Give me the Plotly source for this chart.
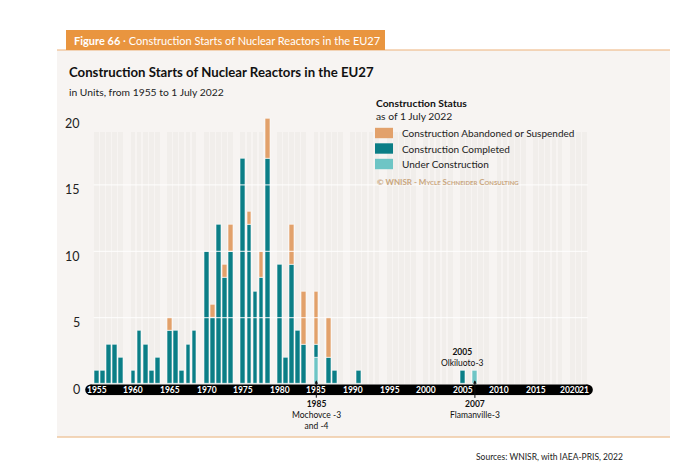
import plotly.graph_objects as go

# ---------------- data ----------------
years = list(range(1955, 2023))
completed = [1, 1, 3, 3, 2,
             1, 4, 3, 1, 2,
             4, 4, 1, 3, 4,
             10, 5, 12, 8, 10,
             17, 12, 7, 8, 17,
             9, 2, 9, 4, 3,
             1, 0, 2, 1, 0,
             0, 1, 0, 0, 0,
             0, 0, 0, 0, 0,
             0, 0, 0, 0, 0,
             1, 0, 0, 0, 0,
             0, 0, 0, 0, 0,
             0, 0, 0, 0, 0,
             0, 0, 0]
abandoned = [0, 0, 0, 0, 0,
             0, 0, 0, 0, 0,
             1, 0, 0, 0, 0,
             0, 1, 0, 1, 2,
             0, 1, 0, 2, 3,
             0, 0, 3, 0, 4,
             4, 0, 3, 0, 0,
             0, 0, 0, 0, 0,
             0, 0, 0, 0, 0,
             0, 0, 0, 0, 0,
             0, 0, 0, 0, 0,
             0, 0, 0, 0, 0,
             0, 0, 0, 0, 0,
             0, 0, 0]
under_construction = [0] * 30 + [2] + [0] * 21 + [1] + [0] * 15

series_names = ["Construction Abandoned or Suspended", "Construction Completed", "Under Construction"]
y_ticks = [0, 5, 10, 15, 20]
grid_levels = [5, 10, 15]
x_tick_years = [1955, 1960, 1965, 1970, 1975, 1980, 1985, 1990, 1995, 2000, 2005, 2010, 2015, 2020, 2021]
x_tick_text = ["1955", "1960", "1965", "1970", "1975", "1980", "1985", "1990", "1995", "2000",
               "2005", "2010", "2015", "2020", "21"]
notes = [  # (year, text, placement)
    (2005, "<b>2005</b><br>Olkiluoto-3", "above"),
    (2007, "<b>2007</b><br>Flamanville-3", "below"),
    (1985, "<b>1985</b><br>Mochovce -3<br>and -4", "below"),
]

# ---------------- style ----------------
C_ABAND = "#E2A16B"
C_COMPL = "#0B7E86"
C_UC = "#6EC5C5"
C_STRIPE = "#F1EEEB"
C_PANEL = "#F7F4F2"
C_TAB = "#E9953F"
FONT = "Lato"
W, H = 690, 470


def px(x):
    return x / W


def py(y):
    return 1 - y / H


def slot(year):
    i = year - years[0]
    return i + i // 5  # one blank slot after every five years


xs = [slot(y) for y in years]


def nz(v):
    return [a if a else None for a in v]


base_compl = under_construction
base_aband = [u + c for u, c in zip(under_construction, completed)]

fig = go.Figure()
# background stripes (one per year)
fig.add_trace(go.Bar(x=xs, y=[19] * len(xs), base=0, width=0.77,
                     marker=dict(color=C_STRIPE, line=dict(width=0)),
                     hoverinfo="skip", showlegend=False))
fig.add_trace(go.Bar(x=xs, y=nz(under_construction), base=0, width=0.77, name=series_names[2],
                     marker=dict(color=C_UC, line=dict(color="white", width=0.6)), showlegend=False))
fig.add_trace(go.Bar(x=xs, y=nz(completed), base=base_compl, width=0.77, name=series_names[1],
                     marker=dict(color=C_COMPL, line=dict(color="white", width=0.6)), showlegend=False))
fig.add_trace(go.Bar(x=xs, y=nz(abandoned), base=base_aband, width=0.77, name=series_names[0],
                     marker=dict(color=C_ABAND, line=dict(color="white", width=0.6)), showlegend=False))

shapes = []
# panel
shapes.append(dict(type="rect", xref="paper", yref="paper", x0=px(57), x1=px(670), y0=py(437), y1=py(50),
                   fillcolor=C_PANEL, line=dict(width=0), layer="below"))
shapes.append(dict(type="line", xref="paper", yref="paper", x0=px(57), x1=px(670), y0=py(50), y1=py(50),
                   line=dict(color="#EDB27A", width=1.2), layer="below"))
shapes.append(dict(type="line", xref="paper", yref="paper", x0=px(57), x1=px(670), y0=py(437), y1=py(437),
                   line=dict(color="#EFC9A2", width=1.5), layer="below"))
shapes.append(dict(type="rect", xref="paper", yref="paper", x0=px(66), x1=px(385), y0=py(50), y1=py(30),
                   fillcolor=C_TAB, line=dict(width=0), layer="below"))
# white gridlines over the bars
for g in grid_levels:
    shapes.append(dict(type="line", xref="x", yref="y", x0=xs[0] - 0.5, x1=xs[-1] + 0.5, y0=g, y1=g,
                       line=dict(color="rgba(255,255,255,0.75)", width=1.3), layer="above"))
# black axis band with round ends
band_y0, band_y1 = -0.84, -0.03
band_mid = (band_y0 + band_y1) / 2
shapes.append(dict(type="rect", xref="x", yref="y", x0=xs[0] - 1, x1=xs[-1] + 0.45, y0=band_y0, y1=band_y1,
                   fillcolor="black", line=dict(width=0), layer="above"))
for xe in (xs[0] - 1, xs[-1] + 0.45):
    shapes.append(dict(type="circle", xref="x", yref="y", xsizemode="pixel", ysizemode="pixel",
                       xanchor=xe, yanchor=band_mid, x0=-5.4, x1=5.4, y0=-5.4, y1=5.4,
                       fillcolor="black", line=dict(width=0), layer="above"))
# legend swatches
leg_cols = [C_ABAND, C_COMPL, C_UC]
leg_y = [133, 148.5, 164]
for c, yy in zip(leg_cols, leg_y):
    shapes.append(dict(type="rect", xref="paper", yref="paper", x0=px(375), x1=px(393),
                       y0=py(yy + 5.2), y1=py(yy - 5.2), fillcolor=c, line=dict(width=0)))

ann = []
# header tab
ann.append(dict(xref="paper", yref="paper", x=px(72), y=py(40.5), xanchor="left", yanchor="middle",
                text="<b>Figure 66</b> · Construction Starts of Nuclear Reactors in the EU27",
                font=dict(family=FONT, size=11, color="white"), showarrow=False))
ann.append(dict(xref="paper", yref="paper", x=px(67), y=py(72), xanchor="left", yanchor="middle",
                text="<b>Construction Starts of Nuclear Reactors in the EU27</b>",
                font=dict(family=FONT, size=13.2, color="#111", weight=900), showarrow=False))
ann.append(dict(xref="paper", yref="paper", x=px(67), y=py(91.5), xanchor="left", yanchor="middle",
                text="in Units, from 1955 to 1 July 2022",
                font=dict(family=FONT, size=10.3, color="#222"), showarrow=False))
# legend texts
ann.append(dict(xref="paper", yref="paper", x=px(374), y=py(103), xanchor="left", yanchor="middle",
                text="<b>Construction Status</b>", font=dict(family=FONT, size=10.3, color="#111"),
                showarrow=False))
ann.append(dict(xref="paper", yref="paper", x=px(374), y=py(115.5), xanchor="left", yanchor="middle",
                text="as of 1 July 2022", font=dict(family=FONT, size=10.3, color="#222"), showarrow=False))
for name, yy in zip(series_names, leg_y):
    ann.append(dict(xref="paper", yref="paper", x=px(400), y=py(yy), xanchor="left", yanchor="middle",
                    text=name, font=dict(family=FONT, size=10, color="#222"), showarrow=False))
sc = "font-size:6px"
ann.append(dict(xref="paper", yref="paper", x=px(375), y=py(182), xanchor="left", yanchor="middle",
                text=(f"<b>© WNISR - M<span style='{sc}'>YCLE</span> S<span style='{sc}'>CHNEIDER</span> "
                      f"C<span style='{sc}'>ONSULTING</span></b>"),
                font=dict(family=FONT, size=8, color="#C9A67E"), showarrow=False))
# y tick labels
for v in y_ticks:
    ann.append(dict(xref="paper", yref="y", x=px(81.5), y=v, xanchor="right", yanchor="middle", yshift=-5,
                    text=str(v), font=dict(family=FONT, size=12.5, color="#222"), showarrow=False))
# x tick labels inside the black band
x_shift = {2020: -3, 2021: 5}
for yr, t in zip(x_tick_years, x_tick_text):
    ann.append(dict(xref="x", yref="y", x=slot(yr), y=band_mid, xanchor="center", yanchor="middle",
                    xshift=x_shift.get(yr, 0),
                    text=f"<b>{t}</b>", font=dict(family=FONT, size=8.5, color="white"), showarrow=False))
# notes
for yr, t, where in notes:
    if where == "above":
        top = completed[years.index(yr)] + abandoned[years.index(yr)] + under_construction[years.index(yr)]
        ann.append(dict(xref="x", yref="y", x=slot(yr), y=top, xanchor="center", yanchor="bottom", yshift=1,
                        text=t, font=dict(family=FONT, size=8.5, color="#111"), showarrow=False))
    else:
        nlines = t.count("<br>") + 1
        ann.append(dict(xref="x", yref="y", x=slot(yr), y=0.28, text=t, align="center",
                        font=dict(family=FONT, size=8.5, color="#111"), showarrow=True,
                        arrowhead=2, arrowsize=0.7, arrowwidth=1, arrowcolor="#111",
                        ax=0, ay=19 + nlines * 5.3, standoff=0))
# sources
ann.append(dict(xref="paper", yref="paper", x=px(625), y=py(457), xanchor="right", yanchor="middle",
                text="Sources: WNISR, with IAEA-PRIS, 2022",
                font=dict(family=FONT, size=8.5, color="#222"), showarrow=False))

fig.update_layout(
    width=W, height=H, margin=dict(l=0, r=0, t=0, b=0),
    paper_bgcolor="white", plot_bgcolor="rgba(0,0,0,0)",
    barmode="overlay", bargap=0,
    xaxis=dict(domain=[px(72.3), px(609.1)], range=[-4, 84], showgrid=False, zeroline=False,
               showticklabels=False, fixedrange=True),
    yaxis=dict(domain=[py(395.3), py(110.6)], range=[-0.85, 20.6], showgrid=False, zeroline=False,
               showticklabels=False, fixedrange=True),
    shapes=shapes, annotations=ann, showlegend=False,
)

fig.write_html("out.html", config={"displayModeBar": False},
               post_script="document.body.style.margin='0';document.body.style.overflow='hidden';")
